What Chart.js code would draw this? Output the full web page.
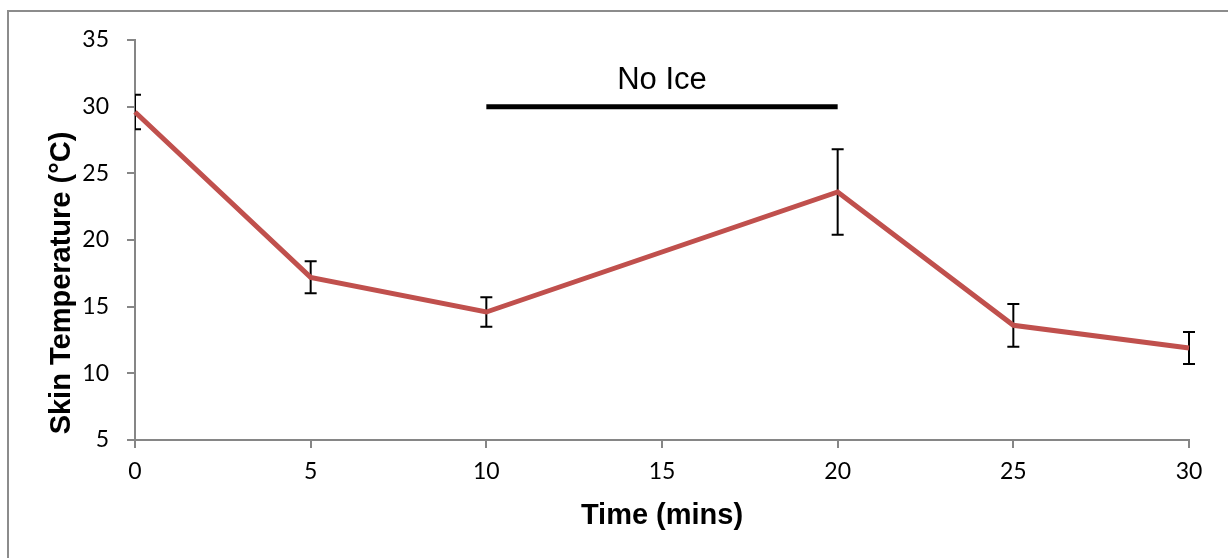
<!DOCTYPE html>
<html>
<head>
<meta charset="utf-8">
<script src="https://cdn.jsdelivr.net/npm/chart.js@4/dist/chart.umd.min.js"></script>
<style>
  body { margin: 0; background: #fff; }
  canvas { display: block; }
</style>
</head>
<body>
<canvas id="chart" width="1228" height="558"></canvas>
<script>
// time points (mins) and mean skin temperature with error bar half-widths
var times = [0, 5, 10, 20, 25, 30];
var temps = [29.6, 17.2, 14.6, 23.6, 13.6, 11.9];
var errs = [1.3, 1.2, 1.1, 3.2, 1.6, 1.2];

// "No Ice" period marker
var noIceX = [10, 20];
var noIceY = 30;
var noIceLabel = "No Ice";

var xTitle = "Time (mins)";
var yTitle = "Skin Temperature (\u00B0C)";

var axisGray = "#868686";
var tickFont = { family: "Lato, 'Open Sans', sans-serif", size: 23 };

function toPoints(xs, ys) {
    var acc = [];
    for (var i = 0; i < xs.length; i++) {
        acc.push({ x: xs[i], y: ys[i] });
    }
    return acc;
}

// frame round the chart, like the spreadsheet chart border
var framePlugin = {
    id: 'frame',
    beforeDraw: function(chart) {
        var ctx = chart.ctx;
        ctx.save();
        ctx.strokeStyle = "#8c8c8c";
        ctx.lineWidth = 2;
        ctx.strokeRect(8, 11, chart.width + 20, chart.height + 20);
        ctx.restore();
    }
};

// error bars, drawn under the line; only the left edge of the plot clips them
var errorBarPlugin = {
    id: 'errorBars',
    beforeDatasetsDraw: function(chart) {
        var ctx = chart.ctx;
        var xs = chart.scales.x, ys = chart.scales.y;
        var area = chart.chartArea;
        ctx.save();
        ctx.beginPath();
        ctx.rect(area.left, 0, chart.width - area.left, chart.height);
        ctx.clip();
        ctx.strokeStyle = "#000";
        ctx.lineWidth = 2;
        for (var i = 0; i < times.length; i++) {
            var px = xs.getPixelForValue(times[i]);
            var top = ys.getPixelForValue(temps[i] + errs[i]);
            var bot = ys.getPixelForValue(temps[i] - errs[i]);
            ctx.beginPath();
            ctx.moveTo(px, top); ctx.lineTo(px, bot);
            ctx.moveTo(px - 6, top); ctx.lineTo(px + 6, top);
            ctx.moveTo(px - 6, bot); ctx.lineTo(px + 6, bot);
            ctx.stroke();
        }
        ctx.restore();
    }
};

// axis titles and the "No Ice" label
var textPlugin = {
    id: 'texts',
    afterDraw: function(chart) {
        var ctx = chart.ctx;
        var xs = chart.scales.x, ys = chart.scales.y;
        var area = chart.chartArea;
        ctx.save();
        ctx.fillStyle = "#000";
        ctx.textAlign = "center";
        ctx.textBaseline = "alphabetic";

        ctx.font = "31px 'Liberation Sans', Arial, sans-serif";
        var lx = xs.getPixelForValue((noIceX[0] + noIceX[1]) / 2);
        ctx.fillText(noIceLabel, lx, ys.getPixelForValue(noIceY) - 18);

        ctx.font = "bold 29px 'Liberation Sans', Arial, sans-serif";
        ctx.fillText(xTitle, (area.left + area.right) / 2, area.bottom + 84);

        ctx.translate(70, (area.top + area.bottom) / 2 + 43);
        ctx.rotate(-Math.PI / 2);
        ctx.fillText(yTitle, 0, 0);
        ctx.restore();
    }
};

var ctx = document.getElementById('chart').getContext('2d');

var chart = new Chart(ctx, {
    type: 'line',
    data: {
        datasets: [
            {
                data: toPoints(times, temps),
                borderColor: "#C0504D",
                borderWidth: 5,
                pointRadius: 0,
                tension: 0,
                fill: false,
                clip: false
            },
            {
                data: toPoints(noIceX, [noIceY, noIceY]),
                borderColor: "#000",
                borderWidth: 5,
                pointRadius: 0,
                tension: 0,
                fill: false
            }
        ]
    },
    options: {
        responsive: false,
        animation: false,
        devicePixelRatio: 1,
        layout: { padding: { left: 0, top: 40, right: 39, bottom: 0 } },
        plugins: {
            legend: { display: false },
            tooltip: { enabled: false }
        },
        scales: {
            x: {
                type: 'linear',
                min: 0,
                max: 30,
                afterFit: function(scale) { scale.height = 118; },
                ticks: { stepSize: 5, color: "#000", font: tickFont, padding: 10, maxRotation: 0 },
                grid: { drawOnChartArea: false, drawTicks: true, tickLength: 8, color: axisGray, lineWidth: 2 },
                border: { color: axisGray, width: 2 }
            },
            y: {
                min: 5,
                max: 35,
                afterFit: function(scale) { scale.width = 135; },
                ticks: { stepSize: 5, color: "#000", font: tickFont, padding: 18 },
                grid: { drawOnChartArea: false, drawTicks: true, tickLength: 8, color: axisGray, lineWidth: 2 },
                border: { color: axisGray, width: 2 }
            }
        }
    },
    plugins: [framePlugin, errorBarPlugin, textPlugin]
});
</script>
</body>
</html>
